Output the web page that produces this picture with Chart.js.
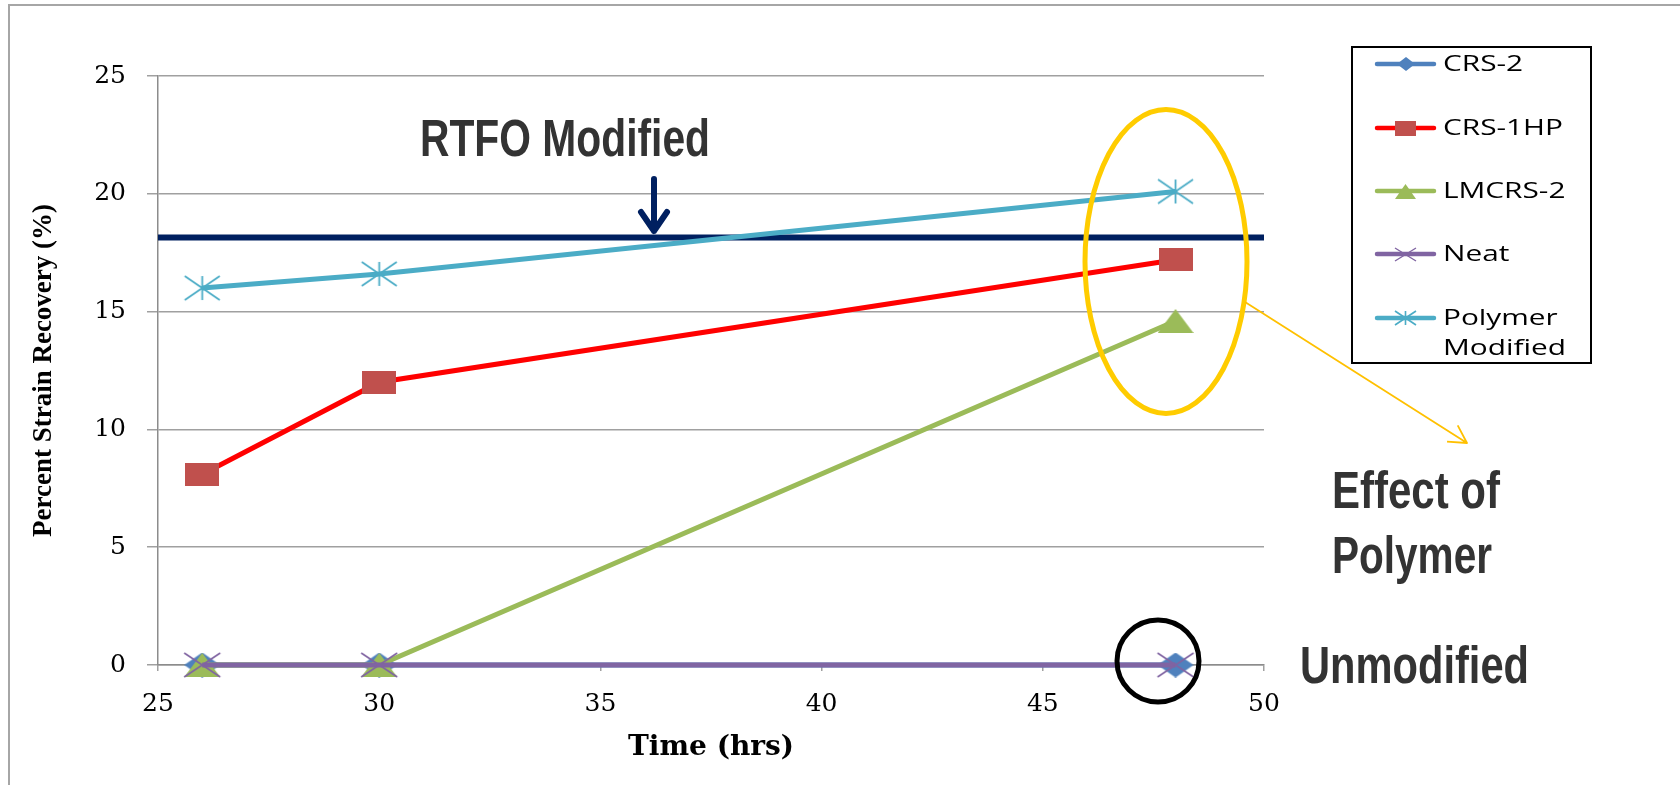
<!DOCTYPE html>
<html>
<head>
<meta charset="utf-8">
<script src="https://cdn.jsdelivr.net/npm/chart.js@4.4.1/dist/chart.umd.min.js"></script>
<style>
  html, body { margin: 0; padding: 0; background: #ffffff; }
  canvas { display: block; }
</style>
</head>
<body>
<canvas id="chart" width="1680" height="785"></canvas>
<script>
// Measurement times (hrs)
const times = [26, 30, 48];

// Percent strain recovery per binder
const crs2 = [0, 0, 0];
const crs1hp = [8.1, 12.0, 17.2];
const lmcrs2 = [0, 0, 14.6];
const neat = [0, 0, 0];
const polymerModified = [16.0, 16.6, 20.1];

// RTFO-modified reference level
const rtfoLevel = 18.15;

const seriesNames = ['CRS-2', 'CRS-1HP', 'LMCRS-2', 'Neat', 'Polymer Modified'];

// Axis ranges and tick steps
const xRange = [25, 50];
const xStep = 5;
const yRange = [0, 25];
const yStep = 5;

const xTitle = 'Time (hrs)';
const yTitle = 'Percent Strain Recovery (%)';

// Marker bitmaps used as point styles
function makeMarker(kind, w, h, fill, lw) {
  const pad = Math.ceil(lw || 0);
  const c = document.createElement('canvas');
  c.width = w + 2 * pad;
  c.height = h + 2 * pad;
  const g = c.getContext('2d');
  g.translate(pad, pad);
  g.fillStyle = fill;
  g.strokeStyle = fill;
  g.lineWidth = lw || 1;
  g.beginPath();
  if (kind === 'diamond') {
    g.moveTo(w / 2, 0); g.lineTo(w, h / 2); g.lineTo(w / 2, h); g.lineTo(0, h / 2); g.closePath(); g.fill();
  } else if (kind === 'square') {
    g.rect(0, 0, w, h); g.fill();
  } else if (kind === 'triangle') {
    g.moveTo(w / 2, 0); g.lineTo(w, h); g.lineTo(0, h); g.closePath(); g.fill();
  } else if (kind === 'cross') {
    g.moveTo(0, 0); g.lineTo(w, h); g.moveTo(w, 0); g.lineTo(0, h); g.stroke();
  } else if (kind === 'star') {
    g.moveTo(0, 0); g.lineTo(w, h); g.moveTo(w, 0); g.lineTo(0, h);
    g.moveTo(w / 2, 0); g.lineTo(w / 2, h); g.stroke();
  }
  return c;
}

const styles = [
  { line: '#4F81BD', fill: '#4F81BD', kind: 'diamond', big: [36, 25], small: [18, 14], lw: 0 },
  { line: '#FF0000', fill: '#C0504D', kind: 'square', big: [34, 23], small: [21, 15], lw: 0 },
  { line: '#9BBB59', fill: '#9BBB59', kind: 'triangle', big: [36, 24], small: [21, 15], lw: 0 },
  { line: '#8064A2', fill: '#8064A2', kind: 'cross', big: [36, 24], small: [21, 13], lw: 1.6 },
  { line: '#4BACC6', fill: '#4BACC6', kind: 'star', big: [35, 24], small: [21, 14], lw: 1.8 }
];

const seriesValues = [crs2, crs1hp, lmcrs2, neat, polymerModified];

const datasets = seriesNames.map((name, i) => {
  const s = styles[i];
  return {
    label: name,
    data: times.map((t, k) => ({ x: t, y: seriesValues[i][k] })),
    borderColor: s.line,
    backgroundColor: s.fill,
    borderWidth: 5,
    pointStyle: makeMarker(s.kind, s.big[0], s.big[1], s.fill, s.lw),
    pointRadius: 12,
    tension: 0,
    clip: false,
    order: seriesNames.length - i
  };
});

datasets.push({
  label: 'RTFO Modified',
  data: [{ x: xRange[0], y: rtfoLevel }, { x: xRange[1], y: rtfoLevel }],
  borderColor: '#002060',
  borderWidth: 6,
  pointRadius: 0,
  clip: false,
  order: 10
});

const legendMarkers = styles.map(s => makeMarker(s.kind, s.small[0], s.small[1], s.fill, s.lw ? s.lw * 0.9 : 0));

// Frame, legend and callouts
const decorations = {
  id: 'decorations',
  afterDraw(chart) {
    const ctx = chart.ctx;
    ctx.save();

    // outer frame
    ctx.strokeStyle = '#A6A6A6';
    ctx.lineWidth = 2;
    ctx.beginPath();
    ctx.moveTo(9, 800); ctx.lineTo(9, 5); ctx.lineTo(1700, 5);
    ctx.stroke();

    // legend box
    ctx.strokeStyle = '#000000';
    ctx.lineWidth = 2;
    ctx.strokeRect(1352, 47, 239, 316);

    ctx.font = '21px "Open Sans"';
    const sx = 120 / ctx.measureText('CRS-1HP').width;
    const rowY = [64, 128, 191, 254, 318];
    seriesNames.forEach((name, i) => {
      const y = rowY[i];
      ctx.strokeStyle = styles[i].line;
      ctx.lineWidth = 4.5;
      ctx.lineCap = 'round';
      ctx.beginPath();
      ctx.moveTo(1377, y); ctx.lineTo(1434, y);
      ctx.stroke();
      const m = legendMarkers[i];
      ctx.drawImage(m, Math.round(1405.5 - m.width / 2), Math.round(y - m.height / 2));
      ctx.fillStyle = '#000000';
      ctx.textBaseline = 'middle';
      ctx.textAlign = 'left';
      const lines = name === 'Polymer Modified' ? ['Polymer', 'Modified'] : [name];
      lines.forEach((ln, k) => {
        ctx.save();
        ctx.translate(1443, y + 1 + k * 30);
        ctx.scale(sx, 1);
        ctx.fillText(ln, 0, 0);
        ctx.restore();
      });
    });

    // callout labels
    ctx.fillStyle = '#333333';
    ctx.textBaseline = 'alphabetic';
    ctx.font = 'bold 51px "Liberation Sans", Arial, sans-serif';
    function label(text, x, y, w) {
      const s = w / ctx.measureText(text).width;
      ctx.save();
      ctx.translate(x, y);
      ctx.scale(s, 1);
      ctx.fillText(text, 0, 0);
      ctx.restore();
    }
    label('RTFO Modified', 420, 156, 290);
    label('Effect of', 1332, 508, 168);
    label('Polymer', 1332, 573, 160);
    label('Unmodified', 1300, 683, 229);

    // RTFO arrow
    ctx.strokeStyle = '#002060';
    ctx.lineWidth = 6;
    ctx.lineCap = 'round';
    ctx.lineJoin = 'round';
    ctx.beginPath();
    ctx.moveTo(654, 179); ctx.lineTo(654, 231);
    ctx.moveTo(641, 212); ctx.lineTo(654, 231); ctx.lineTo(667, 212);
    ctx.stroke();

    // polymer highlight
    ctx.strokeStyle = '#FFCC00';
    ctx.lineWidth = 5;
    ctx.beginPath();
    ctx.ellipse(1166, 261.5, 81, 152, 0, 0, Math.PI * 2);
    ctx.stroke();

    ctx.strokeStyle = '#FFC000';
    ctx.lineWidth = 1.8;
    ctx.lineCap = 'butt';
    const x0 = 1245, y0 = 302, x1 = 1467, y1 = 443;
    const a = Math.atan2(y1 - y0, x1 - x0);
    ctx.beginPath();
    ctx.moveTo(x0, y0); ctx.lineTo(x1, y1);
    ctx.moveTo(x1 + 20 * Math.cos(a + Math.PI - 0.5), y1 + 20 * Math.sin(a + Math.PI - 0.5));
    ctx.lineTo(x1, y1);
    ctx.lineTo(x1 + 20 * Math.cos(a + Math.PI + 0.52), y1 + 20 * Math.sin(a + Math.PI + 0.52));
    ctx.stroke();

    // unmodified highlight
    ctx.strokeStyle = '#000000';
    ctx.lineWidth = 5;
    ctx.beginPath();
    ctx.ellipse(1158, 661, 41, 41, 0, 0, Math.PI * 2);
    ctx.stroke();

    ctx.restore();
  }
};

const gridGray = '#A0A0A0';
const tickFont = { family: '"DejaVu Serif", serif', size: 25 };

new Chart(document.getElementById('chart'), {
  type: 'line',
  data: { datasets },
  options: {
    responsive: false,
    animation: false,
    devicePixelRatio: 1,
    events: [],
    layout: { padding: { left: 0, top: 76, right: 416, bottom: 0 } },
    plugins: {
      legend: { display: false },
      tooltip: { enabled: false }
    },
    scales: {
      x: {
        type: 'linear',
        min: xRange[0],
        max: xRange[1],
        ticks: { stepSize: xStep, padding: 18, color: '#000000', font: tickFont, maxRotation: 0 },
        grid: { drawOnChartArea: false, drawTicks: true, tickLength: 6, color: gridGray, lineWidth: 1.5 },
        border: { color: '#8C8C8C', width: 1.5 },
        title: {
          display: true,
          text: xTitle,
          color: '#000000',
          font: { family: '"DejaVu Serif", serif', size: 28, weight: 'bold' },
          padding: { top: 0, bottom: 20 }
        },
        afterFit(scale) { scale.height = 120; }
      },
      y: {
        type: 'linear',
        min: yRange[0],
        max: yRange[1],
        ticks: { stepSize: yStep, padding: 21, color: '#000000', font: tickFont },
        grid: { drawTicks: true, tickLength: 11, color: gridGray, lineWidth: 1.5 },
        border: { color: '#8C8C8C', width: 1.5 },
        title: {
          display: true,
          text: yTitle,
          color: '#000000',
          font: { family: '"Liberation Serif", "Times New Roman", serif', size: 27, weight: 'bold' },
          padding: { top: 28, bottom: 0 }
        },
        afterFit(scale) { scale.width = 158; }
      }
    }
  },
  plugins: [decorations]
});
</script>
</body>
</html>
